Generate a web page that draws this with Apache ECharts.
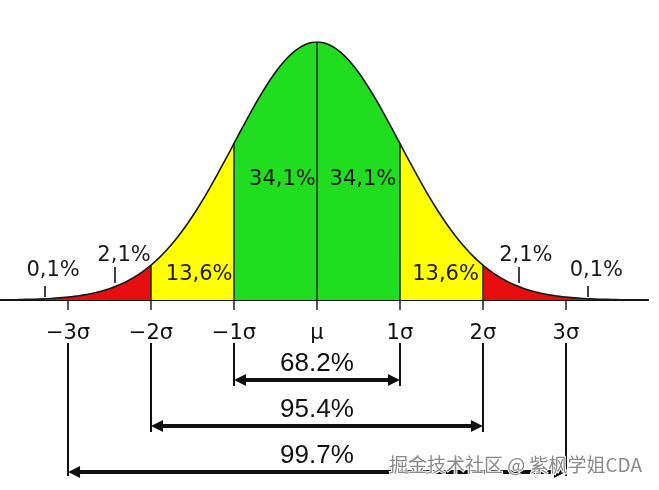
<!DOCTYPE html>
<html><head><meta charset="utf-8">
<script src="https://cdn.jsdelivr.net/npm/echarts@6/dist/echarts.min.js"></script>
<style>html,body{margin:0;padding:0;background:#fff}#c{width:659px;height:490px}</style>
</head><body><div id="c"></div>
<script>
// ---- data ----
const sigmaTicks = [-3, -2, -1, 0, 1, 2, 3];
const sigmaLabels = ['−3σ', '−2σ', '−1σ', 'μ', '1σ', '2σ', '3σ'];
const curveX = [-3.8,-3.7,-3.6,-3.5,-3.4,-3.3,-3.2,-3.1,-3.0,-2.9,-2.8,-2.7,-2.6,-2.5,-2.4,-2.3,-2.2,-2.1,-2.0,
  -1.9,-1.8,-1.7,-1.6,-1.5,-1.4,-1.3,-1.2,-1.1,-1.0,-0.9,-0.8,-0.7,-0.6,-0.5,-0.4,-0.3,-0.2,-0.1,0,
  0.1,0.2,0.3,0.4,0.5,0.6,0.7,0.8,0.9,1.0,1.1,1.2,1.3,1.4,1.5,1.6,1.7,1.8,1.9,2.0,
  2.1,2.2,2.3,2.4,2.5,2.6,2.7,2.8,2.9,3.0,3.1,3.2,3.3,3.4,3.5,3.6,3.7,3.8,3.9,4.0];
const curveY = [0.0003,0.0004,0.0006,0.0009,0.0012,0.0017,0.0024,0.0033,0.0044,0.0060,0.0079,0.0104,0.0136,0.0175,0.0224,0.0283,0.0355,0.0440,0.0540,
  0.0656,0.0790,0.0940,0.1109,0.1295,0.1497,0.1714,0.1942,0.2179,0.2420,0.2661,0.2897,0.3123,0.3332,0.3521,0.3683,0.3814,0.3910,0.3970,0.3989,
  0.3970,0.3910,0.3814,0.3683,0.3521,0.3332,0.3123,0.2897,0.2661,0.2420,0.2179,0.1942,0.1714,0.1497,0.1295,0.1109,0.0940,0.0790,0.0656,0.0540,
  0.0440,0.0355,0.0283,0.0224,0.0175,0.0136,0.0104,0.0079,0.0060,0.0044,0.0033,0.0024,0.0017,0.0012,0.0009,0.0006,0.0004,0.0003,0.0002,0.0001];
const bandEdges = [-2, -1, 0, 1, 2];
const bandLabels = ['0,1%', '2,1%', '13,6%', '34,1%', '34,1%', '13,6%', '2,1%', '0,1%'];
const bandLabelX = [-3.18, -2.325, -1.42, -0.416, 0.554, 1.55, 2.518, 3.367];
const bandLabelY = [0.0462, 0.0686, 0.0392, 0.1869, 0.1869, 0.0392, 0.0686, 0.0462];
const tailTickX = [-3.277, -2.434, 2.434, 3.265];
const rangeSpans = [1, 2, 3];
const rangeLabels = ['68.2%', '95.4%', '99.7%'];

// ---- layout ----
const u = 0.39894 / 258;                 // density units per pixel (upper grid)
const py = p => (300 - p) * u;
const tailTickTop = [286, 267, 267, 286], tailTickBot = [297, 283, 283, 297];
// lower grid: y in pixels below the baseline
const bracketTop = 43;
const arrowLevel = [80, 126, 172];
const bracketEnd = [86, 132, 176];
const rangeLabelMid = [64, 110, 156];
const arrowInset = 6 / 82.97;            // half arrow-head, in sigma units

const heightAt = x => curveY[curveX.findIndex(v => Math.abs(v - x) < 1e-6)];

const chart = echarts.init(document.getElementById('c'));
const red = '#e50d0d', yellow = '#ffff00', green = '#20dd20';
const labelItem = { color: 'rgba(0,0,0,0)', opacity: 1 };

chart.setOption({
  animation: false,
  backgroundColor: '#fff',
  grid: [
    { left: 0, right: 11, top: 42, height: 258, outerBoundsMode: 'none', containLabel: false },
    { left: 0, right: 11, top: 300, height: 190, outerBoundsMode: 'none', containLabel: false }
  ],
  xAxis: [{
    type: 'value', min: -3.82, max: 3.99, gridIndex: 0,
    splitLine: { show: false },
    axisLine: { onZero: false, lineStyle: { color: '#111', width: 2 } },
    axisTick: { show: true, customValues: sigmaTicks, length: 10, lineStyle: { color: '#222', width: 1.5 } },
    axisLabel: {
      customValues: sigmaTicks,
      formatter: v => sigmaLabels[sigmaTicks.indexOf(Math.round(v))],
      fontFamily: 'DejaVu Sans', fontSize: 21, color: '#111', margin: 23
    }
  }, {
    type: 'value', min: -3.82, max: 3.99, gridIndex: 1, show: false
  }],
  yAxis: [
    { type: 'value', min: 0, max: 0.39894, gridIndex: 0, show: false, splitLine: { show: false } },
    { type: 'value', min: 0, max: 190, inverse: true, gridIndex: 1, show: false, splitLine: { show: false } }
  ],
  visualMap: {
    show: false, type: 'piecewise', dimension: 0, seriesIndex: 0,
    pieces: [
      { lt: -2, color: red },
      { gte: -2, lt: -1, color: yellow },
      { gte: -1, lt: 1, color: green },
      { gte: 1, lt: 2, color: yellow },
      { gte: 2, color: red }
    ]
  },
  series: [
    {
      type: 'line', smooth: true, symbol: 'none', z: 1,
      data: curveX.map((x, i) => [x, curveY[i]]),
      lineStyle: { width: 0 }, areaStyle: { opacity: 1 }
    },
    {
      type: 'line', smooth: true, symbol: 'none', z: 4,
      data: curveX.map((x, i) => [x, curveY[i]]),
      lineStyle: { color: '#1a1a1a', width: 1.6 }
    },
    {
      type: 'lines', coordinateSystem: 'cartesian2d', z: 3,
      lineStyle: { color: '#203820', width: 1.6, opacity: 1 },
      data: bandEdges.map(x => ({ coords: [[x, 0], [x, heightAt(x)]] }))
    },
    {
      type: 'lines', coordinateSystem: 'cartesian2d', z: 3,
      lineStyle: { color: '#111', width: 1.6, opacity: 1 },
      data: tailTickX.map((x, i) => ({ coords: [[x, py(tailTickTop[i])], [x, py(tailTickBot[i])]] }))
    },
    {
      type: 'lines', coordinateSystem: 'cartesian2d', xAxisIndex: 1, yAxisIndex: 1, z: 3,
      lineStyle: { color: '#111', width: 2, opacity: 1 },
      data: rangeSpans.flatMap((s, i) => [
        { coords: [[-s, bracketTop], [-s, bracketEnd[i]]] },
        { coords: [[s, bracketTop], [s, bracketEnd[i]]] }
      ])
    },
    {
      type: 'lines', coordinateSystem: 'cartesian2d', xAxisIndex: 1, yAxisIndex: 1, z: 3,
      symbol: ['triangle', 'triangle'], symbolSize: 12,
      lineStyle: { color: '#111', width: 4, opacity: 1 },
      data: rangeSpans.map((s, i) => ({ coords: [[-s + arrowInset, arrowLevel[i]], [s - arrowInset, arrowLevel[i]]] }))
    },
    {
      type: 'scatter', z: 5, symbolSize: 1, itemStyle: labelItem,
      label: { show: true, position: 'inside', formatter: p => p.name, opacity: 1,
        textBorderWidth: 0, fontFamily: 'DejaVu Sans', fontSize: 21, color: '#1a1a1a' },
      data: bandLabels.map((n, i) => ({ name: n, value: [bandLabelX[i], bandLabelY[i]] }))
    },
    {
      type: 'scatter', xAxisIndex: 1, yAxisIndex: 1, z: 5, symbolSize: 1, itemStyle: labelItem,
      label: { show: true, position: 'inside', formatter: p => p.name, opacity: 1,
        textBorderWidth: 0, fontFamily: 'Liberation Sans', fontSize: 26, color: '#111' },
      data: rangeLabels.map((n, i) => ({ name: n, value: [0, rangeLabelMid[i]] }))
    }
  ],
  graphic: [{
    type: 'text', left: 388, top: 454, z: 100,
    style: { text: '掘金技术社区 @ 紫枫学姐CDA', font: '19px "Noto Sans CJK SC"',
      fill: '#8a8a8a', stroke: '#ffffff', lineWidth: 2 }
  }]
});
</script>
</body></html>
